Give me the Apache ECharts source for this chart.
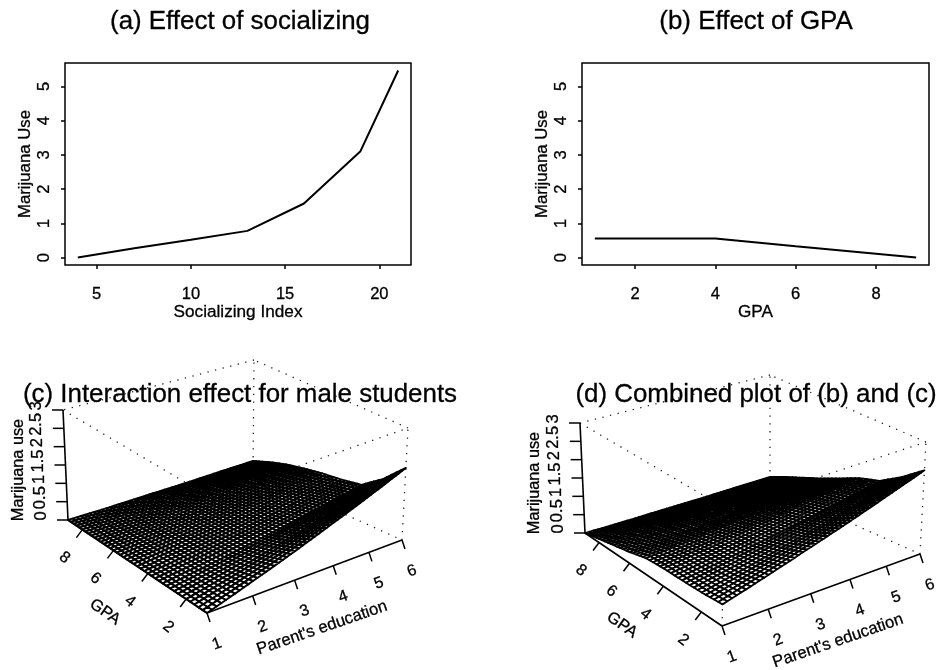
<!DOCTYPE html>
<html><head><meta charset="utf-8">
<style>html,body{margin:0;padding:0;background:#fff}#c{width:940px;height:670px}</style>
<script src="https://cdn.jsdelivr.net/npm/echarts@6/dist/echarts.min.js"></script>
</head><body><div id="c"></div>
<script>
// ---- panel (a)
const socialX = [4, 7, 10, 13, 16, 19, 21];
const socialY = [0, 0.27, 0.52, 0.78, 1.58, 3.11, 5.47];
const socialTicks = [5, 10, 15, 20];
// ---- panel (b)
const gpaX = [1, 4, 6, 9];
const gpaY = [0.56, 0.56, 0.33, 0];
const gpaLineTicks = [2, 4, 6, 8];
const useTicks = [0, 1, 2, 3, 4, 5];
// ---- panels (c) and (d): surface height read at each GPA (rows) and parent's education (columns)
const eduLevels = [1, 2, 3, 4, 5, 6];
const gpaLevels = [1, 2, 3, 4, 5, 6, 7, 8, 9];
const surfaceC = [
  [0, .39, .77, 1.16, 1.54, 1.93],
  [0, .27, .55, .82, 1.10, 1.37],
  [0, .19, .39, .58, .78, .97],
  [0, .17, .35, .52, .70, .87],
  [0, .16, .32, .49, .65, .81],
  [0, .14, .29, .43, .58, .72],
  [0, .12, .25, .37, .50, .62],
  [0, .10, .19, .29, .38, .48],
  [0, .06, .13, .19, .26, .32]
];
const surfaceD = [
  [.55, .89, 1.23, 1.56, 1.90, 2.24],
  [.50, .76, 1.02, 1.28, 1.54, 1.80],
  [.48, .67, .87, 1.06, 1.26, 1.45],
  [.47, .63, .80, .96, 1.13, 1.29],
  [.43, .55, .68, .80, .93, 1.05],
  [.30, .41, .51, .62, .72, .83],
  [.20, .29, .38, .46, .55, .64],
  [.10, .17, .24, .32, .39, .46],
  [0, .05, .11, .16, .22, .27]
];
const zTickVals = [0, .5, 1, 1.5, 2, 2.5, 3];
const zTickText = ['0', '0.5', '1', '1.5', '2', '2.5', '3'];
const gpaTickVals = [2, 4, 6, 8];
const eduTickVals = [1, 2, 3, 4, 5, 6];

// ---- view set-up of the two 3D boxes (projected corners: front, right, back, left)
const FONT = '"Liberation Sans", Arial, sans-serif';
const viewC = {
  floor: [[207, 613], [402, 540], [253, 473], [68, 520]],
  roof: [[210, 497], [408, 428], [254, 360], [63, 410]],
  gpaName: [105, 612], eduName: [322, 628], zName: [19, 470], wire: 1.95
};
const viewD = {
  floor: [[722, 626], [920, 554], [770, 487], [585, 533]],
  roof: [[725, 508], [926, 442], [770, 375], [580, 423]],
  gpaName: [622, 625], eduName: [838, 641], zName: [535, 483], wire: 1.8
};
const SUB_E = 10, SUB_G = 5, Z_MAX = 3;

function homography(q) {
  const [p0, p1, p2, p3] = q;
  const dx1 = p1[0] - p2[0], dx2 = p3[0] - p2[0], sx = p0[0] - p1[0] + p2[0] - p3[0];
  const dy1 = p1[1] - p2[1], dy2 = p3[1] - p2[1], sy = p0[1] - p1[1] + p2[1] - p3[1];
  const den = dx1 * dy2 - dx2 * dy1;
  const g = (sx * dy2 - dx2 * sy) / den, h = (dx1 * sy - sx * dy1) / den;
  const a = p1[0] - p0[0] + g * p1[0], b = p3[0] - p0[0] + h * p3[0];
  const d = p1[1] - p0[1] + g * p1[1], e = p3[1] - p0[1] + h * p3[1];
  return (s, t) => {
    const w = g * s + h * t + 1;
    return [(a * s + b * t + p0[0]) / w, (d * s + e * t + p0[1]) / w];
  };
}
function projector(view) {
  const lo = homography(view.floor), hi = homography(view.roof);
  return (edu, gpa, z) => {
    const s = (edu - 1) / 5, t = (gpa - 1) / 8, k = z / Z_MAX;
    const A = lo(s, t), B = hi(s, t);
    return [A[0] + (B[0] - A[0]) * k, A[1] + (B[1] - A[1]) * k];
  };
}

// Painter's order: far patches first.
function patches(table) {
  const out = [];
  for (let g = gpaLevels.length - 2; g >= 0; g--)
    for (let e = eduLevels.length - 2; e >= 0; e--)
      out.push([eduLevels[e], eduLevels[e + 1], gpaLevels[g], gpaLevels[g + 1],
        table[g][e], table[g][e + 1], table[g + 1][e], table[g + 1][e + 1]]);
  return out;
}
function surfaceSeries(view, table) {
  const P = projector(view);
  return {
    type: 'custom', xAxisIndex: 2, yAxisIndex: 2, coordinateSystem: 'cartesian2d',
    clip: false, silent: true, z: 3, animation: false,
    data: patches(table),
    renderItem(params, api) {
      const e0 = api.value(0), e1 = api.value(1), g0 = api.value(2), g1 = api.value(3);
      const z00 = api.value(4), z10 = api.value(5), z01 = api.value(6), z11 = api.value(7);
      const pt = (i, j) => {
        const u = i / SUB_E, v = j / SUB_G;
        const z = z00 * (1 - u) * (1 - v) + z10 * u * (1 - v) + z01 * (1 - u) * v + z11 * u * v;
        return api.coord(P(e0 + (e1 - e0) * u, g0 + (g1 - g0) * v, z));
      };
      const children = [];
      for (let j = SUB_G - 1; j >= 0; j--)
        for (let i = SUB_E - 1; i >= 0; i--)
          children.push({
            type: 'polygon',
            shape: { points: [pt(i, j), pt(i + 1, j), pt(i + 1, j + 1), pt(i, j + 1)] },
            style: { fill: '#fff', stroke: '#000', lineWidth: view.wire, lineJoin: 'round' }
          });
      return { type: 'group', children };
    }
  };
}
function boxSeries(view) {
  const f = view.floor, r = view.roof;
  const edges = [[f[3], f[2]], [f[2], f[1]], [f[2], r[2]], [f[1], r[1]], [f[0], r[0]],
    [r[0], r[1]], [r[1], r[2]], [r[2], r[3]], [r[3], r[0]]];
  return {
    type: 'custom', xAxisIndex: 2, yAxisIndex: 2, clip: false, silent: true, z: 2, animation: false,
    data: [0],
    renderItem(params, api) {
      return {
        type: 'group', children: edges.map(([a, b]) => {
          const A = api.coord(a), B = api.coord(b);
          return { type: 'line', shape: { x1: A[0], y1: A[1], x2: B[0], y2: B[1] },
            style: { stroke: '#222', lineWidth: 1.3, lineDash: [1.3, 6.5] } };
        })
      };
    }
  };
}
function axesSeries(view) {
  const P = projector(view);
  const seg = (api, a, b, w) => {
    const A = api.coord(a), B = api.coord(b);
    return { type: 'line', shape: { x1: A[0], y1: A[1], x2: B[0], y2: B[1] },
      style: { stroke: '#000', lineWidth: w } };
  };
  const txt = (api, p, s, deg, size) => {
    const c = api.coord(p);
    return { type: 'text', x: c[0], y: c[1], rotation: deg * Math.PI / 180,
      style: { text: s, fill: '#000', stroke: '#000', lineWidth: 0.3, font: size + 'px ' + FONT, textAlign: 'center', textVerticalAlign: 'middle' } };
  };
  return {
    type: 'custom', xAxisIndex: 2, yAxisIndex: 2, clip: false, silent: true, z: 4, animation: false,
    data: [0],
    renderItem(params, api) {
      const kids = [];
      kids.push(seg(api, P(1, 9, 0), P(1, 9, 3), 1.6));
      kids.push(seg(api, P(1, 9, 0), P(1, 1, 0), 1.6));
      kids.push(seg(api, P(1, 1, 0), P(6, 1, 0), 1.6));
      zTickVals.forEach((v, i) => {
        const p = P(1, 9, v);
        kids.push(seg(api, p, [p[0] - 11, p[1]], 1.5));
        kids.push(txt(api, [p[0] - 27, p[1] - 4], zTickText[i], 90, 16.5));
      });
      gpaTickVals.forEach(v => {
        const p = P(1, v, 0);
        kids.push(seg(api, p, [p[0] - 6, p[1] + 8], 1.5));
        kids.push(txt(api, [p[0] - 18, p[1] + 28], String(v), -38, 16));
      });
      eduTickVals.forEach(v => {
        const p = P(v, 1, 0);
        kids.push(seg(api, p, [p[0] + 3, p[1] + 9], 1.5));
        kids.push(txt(api, [p[0] + 10, p[1] + 31], String(v), 20, 16));
      });
      kids.push(txt(api, view.zName, 'Marijuana use', 90, 16.3));
      kids.push(txt(api, view.gpaName, 'GPA', -35, 16.3));
      kids.push(txt(api, view.eduName, "Parent's education", 19, 16.6));
      return { type: 'group', children: kids };
    }
  };
}

const ink = { textBorderColor: '#000', textBorderWidth: 0.3 };
const titleStyle = { fontFamily: FONT, fontSize: 25.9, fontWeight: 'normal', color: '#000', ...ink };
const mkTitle = (text, x, y) => ({ text, left: x, top: y, textAlign: 'center', padding: 0, textStyle: titleStyle });
const tickStyle = { show: true, length: 4, lineStyle: { color: '#000', width: 1.5 } };
const labelFont = { fontFamily: FONT, fontSize: 16.5, color: '#000', ...ink };
function xAxis2d(idx, min, max, ticks, name) {
  return {
    gridIndex: idx, type: 'value', min, max, name, nameLocation: 'middle', nameGap: 37,
    nameTextStyle: { fontFamily: FONT, fontSize: 17.2, color: '#000', ...ink },
    axisLine: { show: false, onZero: false }, splitLine: { show: false },
    axisTick: { ...tickStyle, customValues: ticks },
    axisLabel: { ...labelFont, margin: 21, customValues: ticks }
  };
}
function yAxis2d(idx) {
  return {
    gridIndex: idx, type: 'value', min: -0.218, max: 5.688, name: 'Marijuana Use', nameLocation: 'middle', nameGap: 31,
    nameTextStyle: { fontFamily: FONT, fontSize: 16.8, color: '#000', ...ink },
    axisLine: { show: false, onZero: false }, splitLine: { show: false },
    axisTick: { ...tickStyle, customValues: useTicks },
    axisLabel: { ...labelFont, rotate: 90, margin: 21, align: 'center', verticalAlign: 'middle', customValues: useTicks }
  };
}
const line2d = (idx, xs, ys) => ({
  type: 'line', xAxisIndex: idx, yAxisIndex: idx, showSymbol: false, animation: false, silent: true,
  lineStyle: { color: '#000', width: 2 }, data: xs.map((x, i) => [x, ys[i]])
});
const frame = { show: true, borderColor: '#000', borderWidth: 1.5, backgroundColor: 'transparent' };

const chart = echarts.init(document.getElementById('c'), null, { renderer: 'canvas' });
chart.setOption({
  backgroundColor: '#fff',
  animation: false,
  title: [
    mkTitle('(a) Effect of socializing', 240, 9),
    mkTitle('(b) Effect of GPA', 756, 9),
    mkTitle('(c) Interaction effect for male students', 240, 382),
    mkTitle('(d) Combined plot of (b) and (c)', 756, 382)
  ],
  grid: [
    { left: 65, top: 63, width: 346, height: 202, ...frame },
    { left: 582, top: 63, width: 347, height: 202, ...frame },
    { left: 0, top: 0, width: 940, height: 670, show: false }
  ],
  xAxis: [
    xAxis2d(0, 3.32, 21.68, socialTicks, 'Socializing Index'),
    xAxis2d(1, 0.68, 9.32, gpaLineTicks, 'GPA'),
    { gridIndex: 2, type: 'value', min: 0, max: 940, show: false }
  ],
  yAxis: [
    yAxis2d(0), yAxis2d(1),
    { gridIndex: 2, type: 'value', min: 0, max: 670, inverse: true, show: false }
  ],
  series: [
    line2d(0, socialX, socialY),
    line2d(1, gpaX, gpaY),
    boxSeries(viewC), surfaceSeries(viewC, surfaceC), axesSeries(viewC),
    boxSeries(viewD), surfaceSeries(viewD, surfaceD), axesSeries(viewD)
  ]
});
</script></body></html>
